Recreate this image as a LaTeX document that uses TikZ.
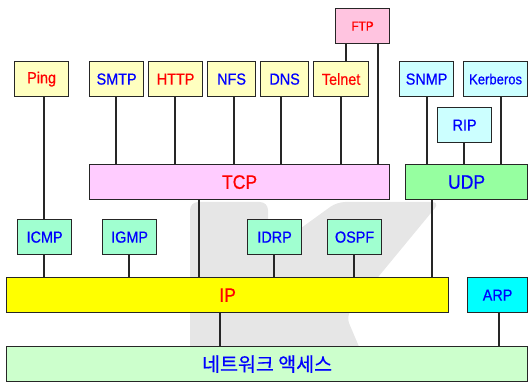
\documentclass[tikz,border=0pt]{standalone}
\usepackage{fontspec}
\setmainfont{Liberation Sans}
\newfontfamily\gfont[FakeStretch=0.9,FakeBold=0.6]{Liberation Sans}
\newfontfamily\krfont[FakeBold=0.6]{Noto Sans CJK KR}
\definecolor{appY}{RGB}{255,255,192}
\definecolor{ftpP}{RGB}{255,196,224}
\definecolor{tcpP}{RGB}{255,204,255}
\definecolor{lcyan}{RGB}{204,255,255}
\definecolor{udpG}{RGB}{150,255,160}
\definecolor{aqua}{RGB}{160,255,208}
\definecolor{netG}{RGB}{204,255,204}
\definecolor{ipY}{RGB}{255,255,0}
\definecolor{arpC}{RGB}{0,255,255}
\definecolor{wm}{RGB}{230,230,230}
\definecolor{txtR}{RGB}{255,0,0}
\definecolor{txtB}{RGB}{0,0,255}
\begin{document}
\begin{tikzpicture}[x=1pt,y=-1pt,
  box/.style={draw=black!85, line width=1.2pt, inner sep=0pt, anchor=north west, minimum height=35pt},
  sm/.style={font=\gfont\fontsize{16}{18}\selectfont},
  ss/.style={font=\gfont\fontsize{14.5}{16}\selectfont},
  lg/.style={font=\gfont\fontsize{19.5}{22}\selectfont},
  conn/.style={draw=black!85, line width=1.2pt}]
\useasboundingbox (0,0) rectangle (528,382);
% watermark
\fill[wm, rounded corners=8pt] (190,202) -- (268,202) -- (268,252) -- (337,202) -- (440,202) -- (346,316) -- (374,382) -- (190,382) -- cycle;
% application layer
\node[box, sm, fill=appY, text=txtR, minimum width=54pt] (ping) at (14,61) {Ping};
\node[box, sm, fill=appY, text=txtB, minimum width=54pt] (smtp) at (89,61) {SMTP};
\node[box, sm, fill=appY, text=txtR, minimum width=54pt] (http) at (148,61) {HTTP};
\node[box, sm, fill=appY, text=txtB, minimum width=48pt] (nfs) at (207,61) {NFS};
\node[box, sm, fill=appY, text=txtB, minimum width=48pt] (dns) at (260,61) {DNS};
\node[box, sm, fill=appY, text=txtR, minimum width=55pt] (telnet) at (313,61) {Telnet};
\node[box, fill=ftpP, text=txtR, minimum width=54pt, font=\gfont\fontsize{13}{15}\selectfont] (ftp) at (335,8) {FTP};
\node[box, sm, fill=lcyan, text=txtB, minimum width=54pt] (snmp) at (399,61) {SNMP};
\node[box, ss, fill=lcyan, text=txtB, minimum width=64pt] (kerb) at (463,61) {Kerberos};
\node[box, sm, fill=lcyan, text=txtB, minimum width=54pt] (rip) at (437,107) {RIP};
% transport
\node[box, lg, fill=tcpP, text=txtR, minimum width=300pt] (tcp) at (89,164) {TCP};
\node[box, lg, fill=udpG, text=txtB, minimum width=122pt] (udp) at (405,164) {UDP};
% internet helpers
\node[box, sm, fill=aqua, text=txtB, minimum width=54pt] (icmp) at (17,219) {ICMP};
\node[box, sm, fill=aqua, text=txtB, minimum width=54pt] (igmp) at (102,219) {IGMP};
\node[box, sm, fill=aqua, text=txtB, minimum width=54pt] (idrp) at (247,219) {IDRP};
\node[box, sm, fill=aqua, text=txtB, minimum width=54pt] (ospf) at (327,219) {OSPF};
% IP / ARP / network
\node[box, lg, fill=ipY, text=txtR, minimum width=442pt] (ip) at (6,277) {IP};
\node[box, sm, fill=arpC, text=txtB, minimum width=60pt] (arp) at (467,277) {ARP};
\node[box, fill=netG, text=txtB, minimum width=521pt, font=\krfont\fontsize{19.5}{22}\selectfont] (net) at (6,346) {네트워크 액세스};
% connectors
\foreach \a/\b/\x in {ping/icmp/44, smtp/tcp/116, http/tcp/175, nfs/tcp/234, dns/tcp/281,
  telnet/tcp/341, ftp/telnet/346, snmp/udp/427, rip/udp/464, kerb/udp/501,
  tcp/ip/199, udp/ip/432, icmp/ip/44, igmp/ip/129, idrp/ip/274, ospf/ip/354,
  ip/net/220, arp/net/499}{
  \coordinate (c) at (\x,0);
  \draw[conn] (\a.south -| c) -- (\b.north -| c);
}
\coordinate (cf) at (378,0);
\draw[conn] (ftp.south -| cf) -- (tcp.north -| cf);
\end{tikzpicture}
\end{document}
